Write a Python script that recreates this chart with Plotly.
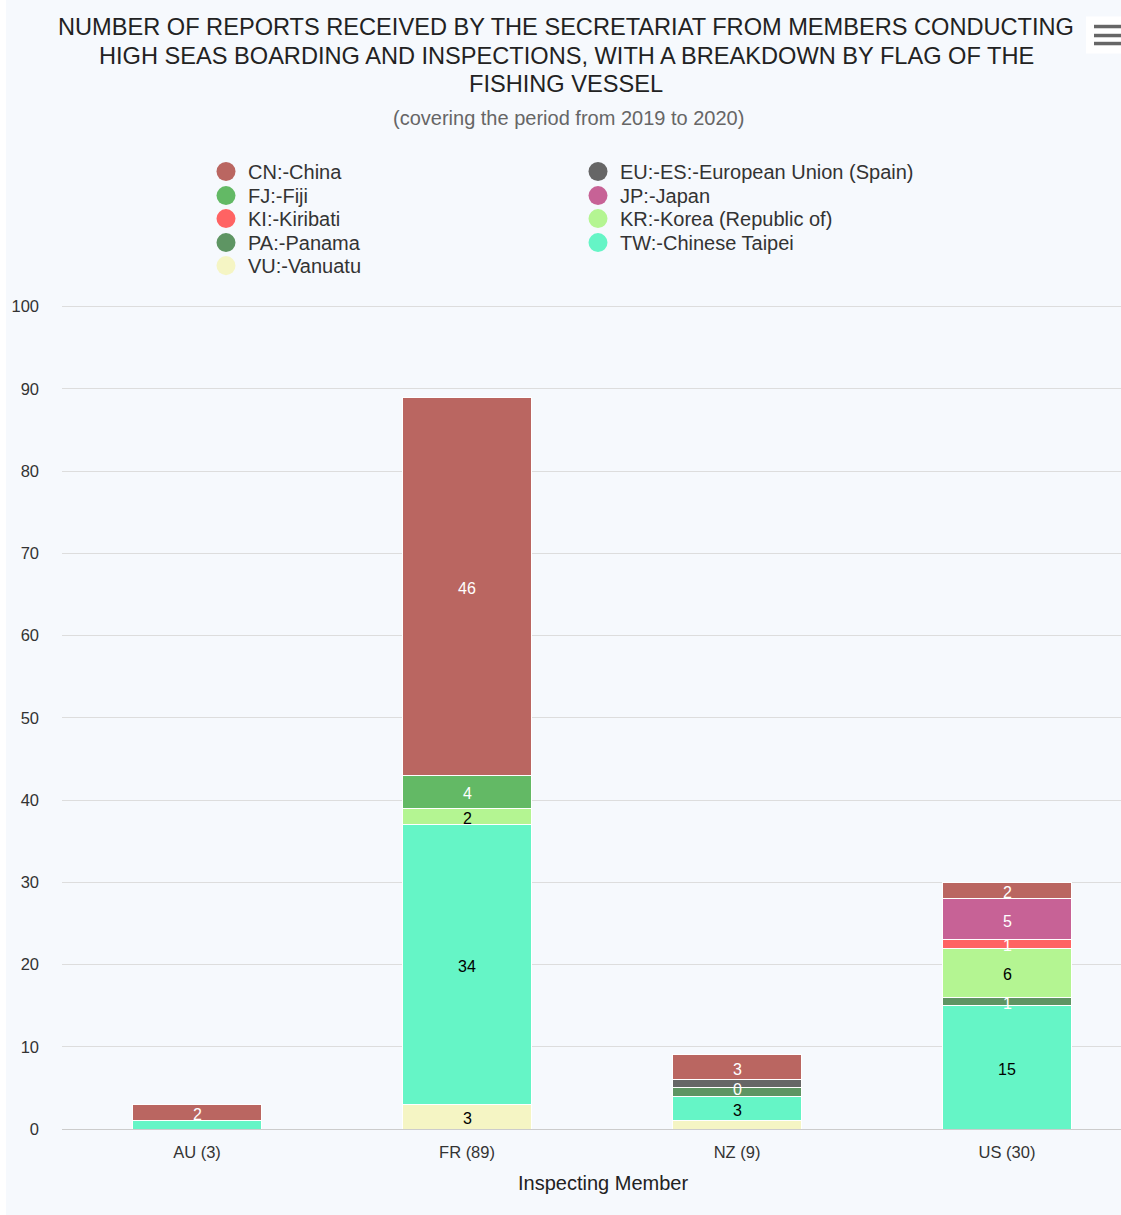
import plotly.graph_objects as go

# ---- data ----
categories = ["AU (3)", "FR (89)", "NZ (9)", "US (30)"]
# series in legend order (top of stack first)
series_names = [
    "CN:-China", "EU:-ES:-European Union (Spain)", "FJ:-Fiji", "JP:-Japan",
    "KI:-Kiribati", "KR:-Korea (Republic of)", "PA:-Panama", "TW:-Chinese Taipei",
    "VU:-Vanuatu",
]
CN = [2, 46, 3, 2]
EU = [None, None, 1, None]
FJ = [None, 4, 0, None]
JP = [None, None, None, 5]
KI = [None, None, None, 1]
KR = [None, 2, None, 6]
PA = [None, None, 1, 1]
TW = [1, 34, 3, 15]
VU = [None, 3, 1, None]
series_values = [CN, EU, FJ, JP, KI, KR, PA, TW, VU]

title_lines = [
    "NUMBER OF REPORTS RECEIVED BY THE SECRETARIAT FROM MEMBERS CONDUCTING",
    "HIGH SEAS BOARDING AND INSPECTIONS, WITH A BREAKDOWN BY FLAG OF THE",
    "FISHING VESSEL",
]
subtitle = "(covering the period from 2019 to 2020)"
x_title = "Inspecting Member"

# ---- styles ----
colors = ["#BA6661", "#666666", "#63B965", "#C76296", "#FF6363",
          "#B4F592", "#5E9563", "#65F5C6", "#F5F5C4"]
label_colors = ["#FFFFFF", "#FFFFFF", "#FFFFFF", "#FFFFFF", "#FFFFFF",
                "#000000", "#FFFFFF", "#000000", "#000000"]
# labels hidden because of overlap in the original
hidden = {(7, 0), (8, 2), (6, 2), (1, 2)}

FONT = "Liberation Sans, Arial, Helvetica, sans-serif"
BG = "#F6F9FD"

W, H = 1121, 1215
L, R = 62, 0
PLOT_TOP, PLOT_BOTTOM = 307, 1129
YMAX = 100.2
T = PLOT_BOTTOM - (PLOT_BOTTOM - PLOT_TOP) * YMAX / 100
B = H - PLOT_BOTTOM
PW = W - L - R
PH = PLOT_BOTTOM - T


def px(xp):
    return (xp - L) / PW


def py(yp):
    return (PLOT_BOTTOM - yp) / PH


fig = go.Figure()

# stacking: last series at the bottom -> add in reverse order
order = list(range(len(series_names)))[::-1]
for i in order:
    vals = [0 if v is None else v for v in series_values[i]]
    fig.add_trace(go.Bar(
        x=categories, y=vals, name=series_names[i],
        marker=dict(color=colors[i], line=dict(color="#FFFFFF", width=1)),
        showlegend=False, hoverinfo="x+y+name",
    ))

annotations = []
shapes = []

# data labels
for ci, cat in enumerate(categories):
    base = 0
    for i in order:
        v = series_values[i][ci]
        if v is None:
            continue
        mid = base + v / 2
        base += v
        if (i, ci) in hidden:
            continue
        annotations.append(dict(
            x=cat, y=mid, xref="x", yref="y", text=str(v), showarrow=False,
            font=dict(family=FONT, size=16, color=label_colors[i]),
            yanchor="middle", yshift=-2,
        ))

# title lines
for k, (txt, yc) in enumerate(zip(title_lines, (27, 56, 84))):
    annotations.append(dict(
        x=px(566), y=py(yc), xref="paper", yref="paper", text=txt,
        showarrow=False, xanchor="center", yanchor="middle",
        font=dict(family=FONT, size=23.6, color="#222222"),
    ))

# subtitle
annotations.append(dict(
    x=px(568), y=py(118), xref="paper", yref="paper", text=subtitle,
    showarrow=False, font=dict(family=FONT, size=20, color="#666666"),
    xanchor="center", yanchor="middle",
))

# x axis title
annotations.append(dict(
    x=px(603), y=py(1183), xref="paper", yref="paper", text=x_title,
    showarrow=False, font=dict(family=FONT, size=20, color="#222222"),
    xanchor="center", yanchor="middle",
))

# legend (two columns, row-wise)
col_x = [226, 598]
row_y = [172, 196, 219, 243, 266]
r_circ = 9.5
for i, name in enumerate(series_names):
    cx = col_x[i % 2]
    cy = row_y[i // 2]
    shapes.append(dict(
        type="circle", xref="paper", yref="paper",
        x0=px(cx - r_circ), x1=px(cx + r_circ),
        y0=py(cy + r_circ), y1=py(cy - r_circ),
        fillcolor=colors[i], line=dict(width=0), layer="above",
    ))
    annotations.append(dict(
        x=px(cx + 20), y=py(cy), xref="paper", yref="paper", text=name,
        showarrow=False, xanchor="left", yanchor="middle",
        font=dict(family=FONT, size=20, color="#333333"),
    ))

# white strip at left edge
shapes.append(dict(type="rect", xref="paper", yref="paper",
                   x0=px(0), x1=px(6), y0=py(H), y1=py(0),
                   fillcolor="#FFFFFF", line=dict(width=0), layer="above"))
# menu button
shapes.append(dict(type="rect", xref="paper", yref="paper",
                   x0=px(1086), x1=px(1125), y0=py(54), y1=py(17),
                   fillcolor="#FFFFFF", line=dict(width=0), layer="above"))
for yy in (27, 36, 44):
    shapes.append(dict(type="line", xref="paper", yref="paper",
                       x0=px(1094), x1=px(1121), y0=py(yy), y1=py(yy),
                       line=dict(color="#666666", width=3.5), layer="above"))

fig.update_layout(
    width=W, height=H,
    margin=dict(l=L, r=R, t=T, b=B),
    paper_bgcolor=BG, plot_bgcolor=BG,
    barmode="stack", bargap=0.52,
    font=dict(family=FONT, color="#333333"),
    showlegend=False,
    xaxis=dict(
        type="category", categoryorder="array", categoryarray=categories,
        range=[-0.5, 3.5 - 21 / 270],
        showgrid=False, showline=True, linecolor="#CCCCCC", linewidth=1,
        tickfont=dict(family=FONT, size=16.5, color="#333333"),
        ticks="", ticklabelstandoff=8,
    ),
    yaxis=dict(
        range=[0, YMAX], tickvals=list(range(0, 101, 10)),
        showgrid=True, gridcolor="#DDDDDD", gridwidth=1,
        zeroline=False, showline=False,
        tickfont=dict(family=FONT, size=16.5, color="#333333"),
        ticklabelstandoff=22,
    ),
    annotations=annotations,
    shapes=shapes,
)

fig.write_html("out.html", config={"displayModeBar": False},
               post_script="document.body.style.margin='0';")
